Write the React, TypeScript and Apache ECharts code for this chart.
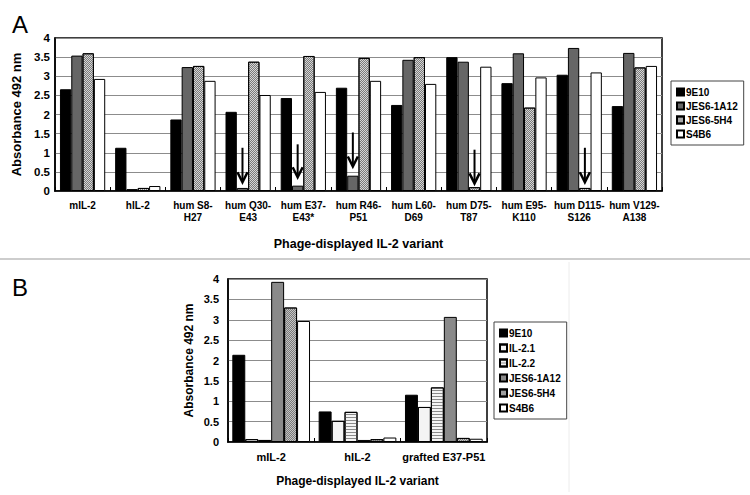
import React, { useEffect, useRef } from "react";
import * as echarts from "echarts";

// ---------- Panel A data ----------
const categoriesA = [
  "mIL-2",
  "hIL-2",
  "hum S8-\nH27",
  "hum Q30-\nE43",
  "hum E37-\nE43*",
  "hum R46-\nP51",
  "hum L60-\nD69",
  "hum D75-\nT87",
  "hum E95-\nK110",
  "hum D115-\nS126",
  "hum V129-\nA138",
];
const seriesNamesA = ["9E10", "JES6-1A12", "JES6-5H4", "S4B6"];
const val9E10A = [2.66, 1.13, 1.87, 2.07, 2.43, 2.7, 2.25, 3.5, 2.82, 3.04, 2.22];
const valJES61A12A = [3.54, 0.05, 3.24, 0.08, 0.14, 0.4, 3.43, 3.38, 3.6, 3.74, 3.61];
const valJES65H4A = [3.6, 0.08, 3.27, 3.38, 3.53, 3.48, 3.5, 0.1, 2.18, 0.08, 3.23];
const valS4B6A = [2.93, 0.13, 2.88, 2.51, 2.59, 2.88, 2.8, 3.25, 2.97, 3.1, 3.27];
// arrows: [category index, bar index in group, from value, to value]
const arrowsA = [
  [3, 1, 1.13, 0.23],
  [4, 1, 1.22, 0.36],
  [5, 1, 1.53, 0.64],
  [7, 2, 1.08, 0.2],
  [9, 2, 1.13, 0.23],
];

// ---------- Panel B data ----------
const categoriesB = ["mIL-2", "hIL-2", "grafted E37-P51"];
const seriesNamesB = ["9E10", "IL-2.1", "IL-2.2", "JES6-1A12", "JES6-5H4", "S4B6"];
const val9E10B = [2.14, 0.75, 1.16];
const valIL21B = [0.07, 0.52, 0.86];
const valIL22B = [0.05, 0.74, 1.34];
const valJES61A12B = [3.93, 0.05, 3.07];
const valJES65H4B = [3.3, 0.07, 0.1];
const valS4B6B = [2.97, 0.11, 0.08];

const yMin = 0;
const yMax = 4;
const yInterval = 0.5;

const FONT = "Liberation Sans, Arial, sans-serif";

export default function App() {
  const ref = useRef<HTMLDivElement>(null);

  useEffect(() => {
    if (!ref.current) return;
    const chart = echarts.init(ref.current, undefined, { renderer: "svg" });

    const checker = {
      symbol: "rect",
      symbolSize: 1,
      dashArrayX: [
        [1, 1],
        [0, 1, 1, 0],
      ],
      dashArrayY: [1, 0],
      color: "#7a7a7a",
      rotation: 0,
    };
    const dots = {
      symbol: "circle",
      symbolSize: 0.6,
      dashArrayX: [
        [1, 2],
        [0, 1.5, 1, 0.5],
      ],
      dashArrayY: [1, 1],
      color: "#9a9a9a",
      rotation: 0,
    };
    const stripes = {
      symbol: "rect",
      symbolSize: 1,
      dashArrayX: [1, 0],
      dashArrayY: [1, 2],
      color: "#8a8a8a",
      rotation: 0,
    };

    const barCatGapA = 0.18;
    const barCatGapB = 0.1;

    const bar = (
      name: string,
      data: number[],
      color: string,
      axisIdx: number,
      gap: number,
      decal?: any
    ) => ({
      type: "bar",
      name,
      data,
      xAxisIndex: axisIdx,
      yAxisIndex: axisIdx,
      barGap: "0%",
      barCategoryGap: gap * 100 + "%",
      itemStyle: {
        color,
        borderColor: "#000",
        borderWidth: 1,
        ...(decal ? { decal } : {}),
      },
      emphasis: { disabled: true },
    });

    const nA = seriesNamesA.length;

    const arrowSeries = {
      type: "custom",
      xAxisIndex: 0,
      yAxisIndex: 0,
      data: arrowsA,
      silent: true,
      z: 10,
      renderItem: (params: any, api: any) => {
        const cat = api.value(0);
        const barIdx = api.value(1);
        const p1 = api.coord([cat, api.value(2)]);
        const p2 = api.coord([cat, api.value(3)]);
        const bandW = api.size([1, 0])[0];
        const barW = (bandW * (1 - barCatGapA)) / nA;
        const x = p1[0] + (barIdx - (nA - 1) / 2) * barW;
        return {
          type: "group",
          children: [
            {
              type: "line",
              shape: { x1: x, y1: p1[1], x2: x, y2: p2[1] - 1 },
              style: { stroke: "#000", lineWidth: 2 },
            },
            {
              type: "polyline",
              shape: {
                points: [
                  [x - 5, p2[1] - 10],
                  [x, p2[1]],
                  [x + 5, p2[1] - 10],
                ],
              },
              style: { stroke: "#000", fill: null, lineWidth: 2.5 },
            },
          ],
        };
      },
    };

    const yAxisCommon = (gridIndex: number, labelSize: number, nameSize: number, nameGap: number, labelMargin: number) => ({
      type: "value",
      gridIndex,
      min: yMin,
      max: yMax,
      interval: yInterval,
      axisLine: { show: true, lineStyle: { color: "#000", width: 1.5 } },
      axisTick: { show: false },
      splitLine: { show: true, lineStyle: { color: "#8c8c8c", width: 1 } },
      axisLabel: {
        fontSize: labelSize,
        fontWeight: "bold",
        color: "#000",
        fontFamily: FONT,
        margin: labelMargin,
      },
      name: "Absorbance 492 nm",
      nameLocation: "middle",
      nameRotate: 90,
      nameGap,
      nameTextStyle: {
        fontSize: nameSize,
        fontWeight: "bold",
        color: "#000",
        fontFamily: FONT,
      },
    });

    const xAxisCommon = (gridIndex: number, data: string[], labelSize: number, nameSize: number, nameGap: number, labelMargin: number) => ({
      type: "category",
      gridIndex,
      data,
      axisLine: { show: true, lineStyle: { color: "#000", width: 1.5 } },
      axisTick: { show: true, inside: true, length: 4, lineStyle: { color: "#000", width: 1 } },
      axisLabel: {
        interval: 0,
        fontSize: labelSize,
        fontWeight: "bold",
        color: "#000",
        fontFamily: FONT,
        lineHeight: 12,
        margin: labelMargin,
      },
      name: "Phage-displayed IL-2 variant",
      nameLocation: "middle",
      nameGap,
      nameTextStyle: {
        fontSize: nameSize,
        fontWeight: "bold",
        color: "#000",
        fontFamily: FONT,
      },
    });

    const legendCommon = {
      orient: "vertical",
      itemWidth: 7,
      itemHeight: 7,
      borderColor: "#444",
      borderWidth: 1,
      backgroundColor: "#fff",
      selectedMode: false,
      icon: "rect",
      textStyle: {
        fontSize: 10,
        fontWeight: "bold",
        color: "#000",
        fontFamily: FONT,
        padding: [0, 0, 0, -3],
      },
    };

    chart.setOption({
      animation: false,
      backgroundColor: "#fff",
      grid: [
        {
          left: 55,
          top: 38,
          width: 607,
          height: 153,
          show: true,
          borderColor: "#000",
          borderWidth: 1.5,
          backgroundColor: "transparent",
        },
        {
          left: 228,
          top: 279,
          width: 259,
          height: 163,
          show: true,
          borderColor: "#000",
          borderWidth: 1.5,
          backgroundColor: "transparent",
        },
      ],
      xAxis: [
        xAxisCommon(0, categoriesA, 10, 12.5, 46, 8),
        xAxisCommon(1, categoriesB, 11, 12, 33, 9),
      ],
      yAxis: [yAxisCommon(0, 11.5, 13, 30, 5), yAxisCommon(1, 11, 12, 33, 9)],
      legend: [
        {
          ...legendCommon,
          left: 671,
          top: 81,
          padding: [6, 6, 6, 5],
          itemGap: 4,
          data: seriesNamesA,
        },
        {
          ...legendCommon,
          left: 494,
          top: 322,
          padding: [6, 6, 6, 5],
          itemGap: 5,
          data: seriesNamesB.map((n) => "B:" + n),
          formatter: (n: string) => n.replace("B:", ""),
        },
      ],
      graphic: [
        {
          type: "text",
          left: 12,
          top: 12,
          style: { text: "A", fontSize: 24, fontFamily: FONT, fill: "#000" },
        },
        {
          type: "text",
          left: 12,
          top: 275,
          style: { text: "B", fontSize: 24, fontFamily: FONT, fill: "#000" },
        },
        {
          type: "line",
          shape: { x1: 0, y1: 259, x2: 750, y2: 259 },
          style: { stroke: "#bdbdbd", lineWidth: 1.5 },
        },
        {
          type: "line",
          shape: { x1: 569, y1: 262, x2: 569, y2: 492 },
          style: { stroke: "#ececec", lineWidth: 1 },
        },
      ],
      series: [
        bar(seriesNamesA[0], val9E10A, "#000", 0, barCatGapA),
        bar(seriesNamesA[1], valJES61A12A, "#666", 0, barCatGapA),
        bar(seriesNamesA[2], valJES65H4A, "#d6d6d6", 0, barCatGapA, checker),
        bar(seriesNamesA[3], valS4B6A, "#fff", 0, barCatGapA),
        arrowSeries,
        bar("B:" + seriesNamesB[0], val9E10B, "#000", 1, barCatGapB),
        bar("B:" + seriesNamesB[1], valIL21B, "#f4f4f4", 1, barCatGapB, dots),
        bar("B:" + seriesNamesB[2], valIL22B, "#f4f4f4", 1, barCatGapB, stripes),
        bar("B:" + seriesNamesB[3], valJES61A12B, "#8a8a8a", 1, barCatGapB),
        bar("B:" + seriesNamesB[4], valJES65H4B, "#c4c4c4", 1, barCatGapB, checker),
        bar("B:" + seriesNamesB[5], valS4B6B, "#fff", 1, barCatGapB),
      ],
    });

    return () => chart.dispose();
  }, []);

  return (
    <div
      ref={ref}
      style={{ position: "absolute", left: 0, top: 0, width: 750, height: 495, background: "#fff" }}
    />
  );
}
